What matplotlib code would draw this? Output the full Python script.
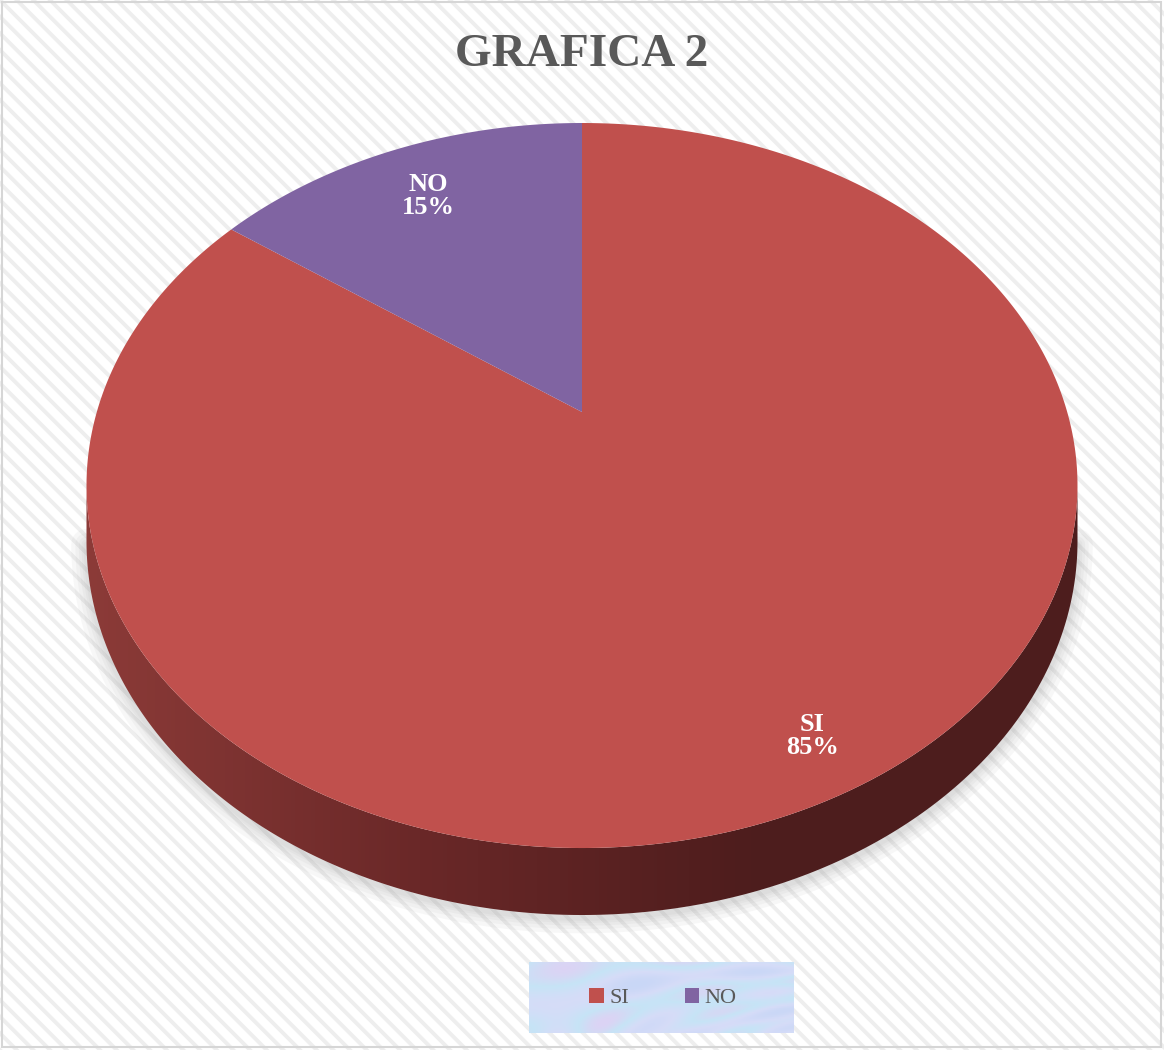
import numpy as np
import matplotlib.pyplot as plt
from matplotlib.patches import Polygon, Rectangle, Patch
from matplotlib.colors import LinearSegmentedColormap

# data
labels = ['SI', 'NO']
values = [85, 15]
colors = ['#C0504D', '#8064A2']
title = 'GRAFICA 2'

W, H = 1164, 1050

# perspective of the tilted 3d pie (pixel units)
CX, CY = 582, 412       # where the pie centre lands
A, B, K = 485.2, 347.6, 0.2028
DROP = 53.4             # thickness of the pie
label_r = [0.88, 0.80]

plt.rcParams['hatch.linewidth'] = 2.8
plt.rcParams['hatch.color'] = '#eeeeee'


def proj(t, r=1.0, drop=0.0):
    # t in degrees, r fraction of radius -> pixel coords
    u = r * np.cos(np.radians(t))
    v = r * np.sin(np.radians(t))
    d = 1 + K * v
    return CX + A * u / d, CY - B * v / d + drop / d


fig = plt.figure(figsize=(11.64, 10.5), dpi=100)
ax = fig.add_axes([0, 0, 1, 1])
ax.set_xlim(0, W)
ax.set_ylim(H, 0)
ax.axis('off')

# striped background + thin border
ax.add_patch(Rectangle((0, 0), W, H, fc='white', ec='#eeeeee', lw=0, hatch='\\\\', zorder=0))
ax.add_patch(Rectangle((2, 2), W - 5, H - 5, fill=False, ec='#d6d6d6', lw=1.5, zorder=1))

# side wall (front half only)
t0 = 180 + np.degrees(np.arcsin(K))
t1 = 360 - np.degrees(np.arcsin(K))
ts = np.linspace(t0, t1, 300)
top = np.column_stack(proj(ts))
bot = np.column_stack(proj(ts[::-1], drop=DROP))

# soft shadow under the edge
bx, by = proj(ts, drop=DROP)
for lw in [22, 16, 11, 7, 4]:
    ax.plot(bx, by + 3, color='#9a9a9a', lw=lw, alpha=0.07, solid_capstyle='round', zorder=2)

side = Polygon(np.vstack([top, bot]), closed=True, fc='none', ec='none', zorder=3)
ax.add_patch(side)
cmap = LinearSegmentedColormap.from_list('side', ['#8c3b38', '#6a2828', '#4e1d1d', '#4d1d1d'])
grad = np.linspace(0, 1, 256)[None, :]
im = ax.imshow(grad, cmap=cmap, extent=(85, 1082, 930, 470), aspect='auto', zorder=3)
im.set_clip_path(side)

# top face slices, clockwise from 12 o'clock
fracs = np.array(values) / np.sum(values)
starts = 90 - 360 * np.concatenate([[0], np.cumsum(fracs)[:-1]])
for lab, f, s, c, lr in zip(labels, fracs, starts, colors, label_r):
    tt = np.linspace(s, s - 360 * f, 400)
    xs, ys = proj(tt)
    pts = np.vstack([[CX, CY], np.column_stack([xs, ys])])
    ax.add_patch(Polygon(pts, closed=True, fc=c, ec='none', zorder=4))
    mx, my = proj(s - 180 * f, r=lr)
    ax.text(mx, my, '{}\n{:.0f}%'.format(lab, f * 100), ha='center', va='center',
            color='white', fontsize=19, fontweight='bold', family='Liberation Serif',
            linespacing=1.0, zorder=5)

# title
ax.text(W / 2, 55, title, ha='center', va='center', fontsize=34, fontweight='bold',
        color='#595959', family='Liberation Serif', zorder=5)

# legend with a pale blue textured box
gx, gy = np.meshgrid(np.linspace(0, 1, 120), np.linspace(0, 1, 40))
tex = 0.5 + 0.25 * np.sin(9 * gx + 3 * gy) * np.cos(5 * gy - 4 * gx) + 0.15 * np.sin(23 * gx * gy + 2)
lcmap = LinearSegmentedColormap.from_list('leg', ['#c9d7f6', '#d6dcf8', '#c6e4f6', '#dcd3f4'])
ax.imshow(tex, cmap=lcmap, extent=(529, 794, 1033, 962), aspect='auto', zorder=5)
handles = [Patch(fc=c, ec='none') for c in colors]
leg = ax.legend(handles, labels, loc='center', bbox_to_anchor=(663 / W, 1 - 998 / H),
                ncol=2, frameon=False, handlelength=0.65, handleheight=0.65,
                handletextpad=0.25, columnspacing=2.5,
                prop={'family': 'Liberation Serif', 'size': 16})
for txt in leg.get_texts():
    txt.set_color('#595959')
leg.set_zorder(6)

fig.savefig('out.png', dpi=100)
